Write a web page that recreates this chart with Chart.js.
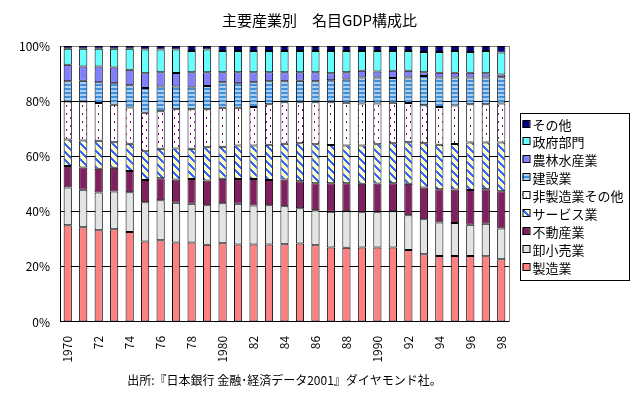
<!DOCTYPE html>
<html lang="ja">
<head>
<meta charset="utf-8">
<title>主要産業別 名目GDP構成比</title>
<script src="https://cdn.jsdelivr.net/npm/chart.js@4.4.1/dist/chart.umd.min.js"></script>
<style>
    html, body { margin: 0; padding: 0; background: #fff; }
    #wrap { width: 639px; height: 398px; }
</style>
</head>
<body>
<div id="wrap"><canvas id="gdpChart" width="639" height="398"></canvas></div>
<script>
// 年次（1970〜98）
const years = [1970, 1971, 1972, 1973, 1974, 1975, 1976, 1977, 1978, 1979,
               1980, 1981, 1982, 1983, 1984, 1985, 1986, 1987, 1988, 1989,
               1990, 1991, 1992, 1993, 1994, 1995, 1996, 1997, 1998];
const tickLabels = ['1970', '', '72', '', '74', '', '76', '', '78', '',
                    '1980', '', '82', '', '84', '', '86', '', '88', '',
                    '1990', '', '92', '', '94', '', '96', '', '98'];
const yTicks = [0, 20, 40, 60, 80, 100];

// 構成比（%）— 下から順に
const manufacturing = [35.0, 34.3, 33.2, 33.6, 32.6, 29.2, 29.6, 28.8, 28.8, 28.0,
                       28.5, 28.1, 28.1, 28.1, 28.2, 28.4, 27.8, 27.0, 26.9, 27.0,
                       27.0, 27.0, 26.1, 24.5, 23.9, 23.9, 23.9, 23.8, 22.7];
const wholesale = [13.7, 13.6, 13.7, 13.7, 14.4, 14.2, 14.5, 14.4, 14.0, 14.3,
                   14.5, 14.7, 14.1, 14.2, 13.7, 12.8, 12.7, 12.9, 13.2, 12.8,
                   12.8, 13.1, 12.6, 12.7, 12.1, 12.0, 11.3, 11.8, 11.2];
const realEstate = [7.8, 8.1, 8.6, 8.6, 7.7, 8.0, 8.0, 8.4, 9.0, 9.0,
                    8.9, 9.0, 9.6, 9.1, 9.7, 9.8, 9.8, 10.4, 10.2, 10.3,
                    10.4, 10.2, 11.4, 11.5, 12.1, 12.1, 12.6, 12.5, 13.5];
const services = [9.6, 9.8, 10.2, 9.2, 9.9, 10.5, 10.7, 11.3, 11.0, 12.0,
                  11.6, 12.1, 12.1, 12.8, 13.0, 13.8, 14.1, 13.8, 13.6, 13.8,
                  14.2, 14.5, 15.0, 16.1, 16.1, 16.5, 17.2, 16.9, 17.6];
const otherNonMfg = [13.8, 14.1, 13.6, 13.6, 13.1, 13.9, 13.6, 14.2, 14.3, 13.8,
                     14.1, 13.7, 14.0, 14.7, 15.0, 14.8, 15.2, 15.5, 15.5, 15.3,
                     14.8, 14.6, 14.2, 13.7, 13.7, 13.9, 13.9, 13.9, 14.2];
const construction = [7.3, 7.5, 7.6, 7.8, 8.1, 9.0, 8.9, 8.2, 7.9, 8.4,
                      9.3, 8.9, 9.0, 8.3, 7.6, 7.8, 7.6, 8.0, 8.5, 9.4,
                      9.4, 9.0, 9.3, 10.6, 10.7, 10.2, 9.7, 9.7, 9.5];
const agriculture = [6.0, 5.2, 5.7, 5.7, 5.6, 5.3, 5.2, 4.9, 5.5, 5.0,
                     3.6, 4.0, 3.6, 3.3, 3.3, 3.1, 3.3, 2.5, 2.6, 2.4,
                     2.2, 2.6, 2.4, 1.4, 1.7, 1.7, 1.7, 1.5, 1.0];
const government = [5.8, 6.4, 6.4, 6.8, 7.6, 8.6, 8.2, 8.5, 7.7, 8.2,
                    7.7, 7.7, 7.7, 7.7, 7.7, 7.7, 7.7, 8.1, 7.7, 7.2,
                    7.4, 7.2, 7.2, 7.3, 7.5, 7.9, 7.5, 8.1, 7.9];
const others = [1.0, 1.0, 1.0, 1.0, 1.0, 1.3, 1.3, 1.3, 1.8, 1.3,
                1.8, 1.8, 1.8, 1.8, 1.8, 1.8, 1.8, 1.8, 1.8, 1.8,
                1.8, 1.8, 1.8, 2.2, 2.2, 1.8, 2.2, 1.8, 2.4];

const FONT = "'Noto Sans CJK JP', 'Noto Sans', sans-serif";
const canvas = document.getElementById('gdpChart');
const ctx = canvas.getContext('2d');

function makePattern(w, h, draw) {
    const c = document.createElement('canvas');
    c.width = w; c.height = h;
    draw(c.getContext('2d'));
    return ctx.createPattern(c, 'repeat');
}

// 建設業: 横縞
const stripes = makePattern(1, 4, g => {
    g.fillStyle = '#3d8fe0'; g.fillRect(0, 0, 1, 2);
    g.fillStyle = '#a8d0f8'; g.fillRect(0, 2, 1, 2);
});
// サービス業: 斜線
const diagonal = makePattern(8, 8, g => {
    g.fillStyle = '#ffffcc'; g.fillRect(0, 0, 8, 8);
    g.fillStyle = '#3366ff';
    for (let y = 0; y < 8; y++)
        for (let x = 0; x < 8; x++)
            if (((x - y) % 8 + 8) % 8 < 3) g.fillRect(x, y, 1, 1);
});
// 非製造業その他: 点
const dots = makePattern(8, 8, g => {
    g.fillStyle = '#ffffff'; g.fillRect(0, 0, 8, 8);
    g.fillStyle = '#800080';
    g.fillRect(2, 1, 1, 2);
    g.fillRect(6, 5, 1, 2);
});

const rawSeries = [
    { label: '製造業', data: manufacturing, color: '#ff8080' },
    { label: '卸小売業', data: wholesale, color: '#e3e3e3' },
    { label: '不動産業', data: realEstate, color: '#802060' },
    { label: 'サービス業', data: services, color: diagonal },
    { label: '非製造業その他', data: otherNonMfg, color: dots },
    { label: '建設業', data: construction, color: stripes },
    { label: '農林水産業', data: agriculture, color: '#8080ff' },
    { label: '政府部門', data: government, color: '#66ffff' },
    { label: 'その他', data: others, color: '#000080' }
];

// 100%積み上げ
const totals = years.map((_, i) => rawSeries.reduce((acc, s) => acc + s.data[i], 0));

const datasets = rawSeries.map(s => ({
    label: s.label,
    data: s.data.map((v, i) => v / totals[i] * 100),
    backgroundColor: s.color,
    borderColor: '#000000',
    borderWidth: 1,
    borderSkipped: false,
    barPercentage: 0.53,
    categoryPercentage: 1.0
}));

// 枠付きの凡例（上から「その他」）
const boxedLegend = {
    id: 'boxedLegend',
    afterDraw(chart) {
        const g = chart.ctx;
        const x0 = chart.chartArea.right + 11.5;
        const y0 = 113.5;
        const w = 109, h = 167;
        g.save();
        g.strokeStyle = '#000';
        g.lineWidth = 1;
        g.strokeRect(x0, y0, w, h);
        g.font = '13px ' + FONT;
        g.textBaseline = 'middle';
        const items = [...chart.data.datasets].reverse();
        items.forEach((ds, i) => {
            const cy = Math.round(y0 + 10 + i * 17.9);
            g.fillStyle = ds.backgroundColor;
            g.fillRect(x0 + 2, cy - 3, 7, 7);
            g.strokeStyle = '#000';
            g.strokeRect(x0 + 2.5, cy - 3.5, 7, 7);
            g.fillStyle = '#000';
            g.fillText(ds.label, x0 + 12, cy + 1);
        });
        g.restore();
    }
};

new Chart(canvas, {
    type: 'bar',
    data: { labels: years, datasets: datasets },
    plugins: [boxedLegend],
    options: {
        responsive: false,
        animation: false,
        layout: { padding: 0 },
        plugins: {
            legend: { display: false },
            tooltip: { enabled: false },
            title: {
                display: true,
                text: '主要産業別　名目GDP構成比',
                color: '#000',
                font: { family: FONT, size: 15, weight: 'normal' },
                padding: { top: 11, bottom: 17 }
            },
            subtitle: {
                display: true,
                position: 'bottom',
                fullSize: false,
                text: '出所:『日本銀行 金融･経済データ2001』ダイヤモンド社。',
                color: '#000',
                font: { family: FONT, size: 12, weight: 'normal' },
                padding: { top: 5, bottom: 10 }
            }
        },
        scales: {
            x: {
                stacked: true,
                grid: { display: false },
                border: { display: true, color: '#000', width: 1 },
                ticks: {
                    autoSkip: false,
                    minRotation: 90,
                    maxRotation: 90,
                    padding: 6,
                    color: '#000',
                    font: { family: FONT, size: 12 },
                    callback: (val, i) => tickLabels[i]
                }
            },
            y: {
                stacked: true,
                min: 0,
                max: 100,
                afterFit: s => { s.width = 60; },
                afterBuildTicks: s => { s.ticks = yTicks.map(v => ({ value: v })); },
                grid: {
                    drawTicks: false,
                    color: c => (c.tick && c.tick.value === 100) ? '#808080' : '#000000',
                    lineWidth: 1
                },
                border: { display: true, color: '#000', width: 1 },
                ticks: {
                    padding: 10,
                    color: '#000',
                    font: { family: FONT, size: 12 },
                    callback: v => v + '%'
                }
            },
            // 右側: 凡例の領域と灰色の枠線
            yRight: {
                display: true,
                position: 'right',
                min: 0,
                max: 100,
                afterFit: s => { s.width = 130; },
                grid: { display: false },
                border: { display: true, color: '#808080', width: 1 },
                ticks: { display: false }
            }
        }
    }
});
</script>
</body>
</html>
